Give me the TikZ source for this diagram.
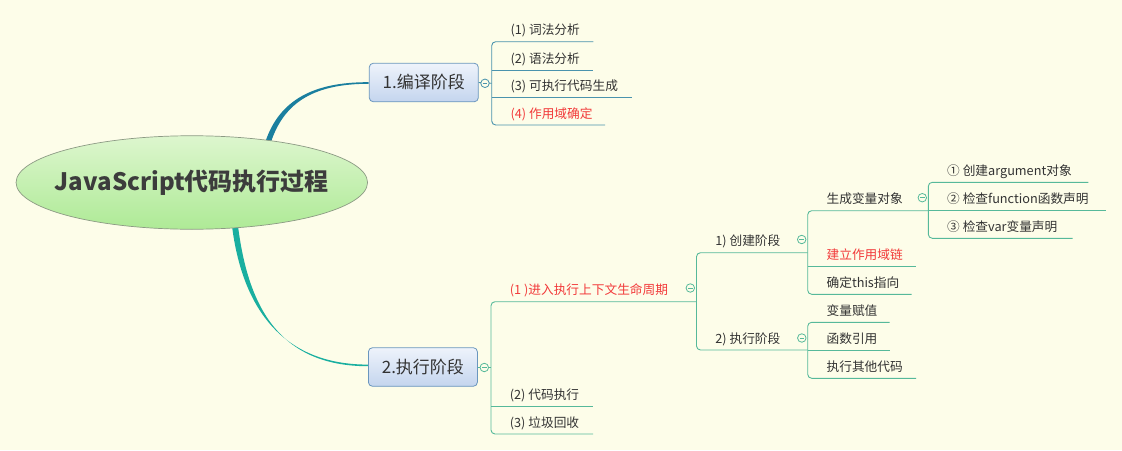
\documentclass[tikz,border=0pt]{standalone}
\usepackage{fontspec}
\setmainfont{Noto Sans CJK SC}
\usetikzlibrary{shapes.geometric}
\definecolor{bgc}{HTML}{FDFDE9}
\definecolor{txt}{HTML}{333333}
\definecolor{titletxt}{HTML}{3C3C3C}
\definecolor{redt}{HTML}{F23A3A}
\definecolor{lineA}{HTML}{4A93AD}
\definecolor{lineB}{HTML}{56B99A}
\definecolor{curveA}{HTML}{1A7F9F}
\definecolor{curveB}{HTML}{19AFA0}
\definecolor{boxtop}{HTML}{EEF3FB}
\definecolor{boxbot}{HTML}{C4D5EE}
\definecolor{boxline}{HTML}{6A96BE}
\definecolor{elltop}{HTML}{DDF6CE}
\definecolor{ellbot}{HTML}{AEEA96}
\definecolor{ellline}{HTML}{8C9A84}
\tikzset{
  lA/.style={draw=lineA, line width=0.9pt},
  lB/.style={draw=lineB, line width=0.9pt},
  leaftext/.style={inner sep=0pt, text=txt, font=\fontsize{12.7}{15}\selectfont},
  redtext/.style={leaftext, text=redt},
  phasebox/.style={draw=boxline, line width=0.8pt, rounded corners=4pt, top color=boxtop, bottom color=boxbot,
     minimum width=109pt, minimum height=38.5pt, inner sep=0pt, text=txt, font=\fontsize{17}{20}\selectfont},
  rootell/.style={ellipse, draw=ellline, line width=0.7pt, top color=elltop, bottom color=ellbot,
     minimum width=351.5pt, minimum height=93.5pt, inner sep=0pt},
  roottext/.style={inner sep=0pt, text=titletxt, font=\fontsize{24}{28}\selectfont\bfseries},
  collapsenode/.style={circle, draw=#1, fill=bgc, line width=0.8pt, minimum size=8.5pt, inner sep=0pt},
}
\newcommand\leaf[6]{% name, xv, y, xe, text style, text
  \coordinate (#1-l) at (#2,#3);
  \coordinate (#1-r) at (#4,#3);
  \node[#5, anchor=base west] (#1) at (#2+18.7,#3-7) {#6};
}
\newcommand\collapser[4]{% name, x, y, color
  \node[collapsenode=#4] (#1) at (#2,#3) {};
  \draw[#4, line width=0.8pt] ([xshift=-2.3pt]#1.center) -- ([xshift=2.3pt]#1.center);
}
\begin{document}
\begin{tikzpicture}[x=1pt, y=-1pt]
\fill[bgc] (0,0) rectangle (1122,450);
\useasboundingbox (0,0) rectangle (1122,450);

% main curves
\fill[curveA] (265.3,142) .. controls (279.5,99) and (315,82) .. (368.5,82.2)
   -- (368.5,83.8) .. controls (316,83.8) and (284.5,101) .. (271,142) -- cycle;
\fill[curveB] (232,226) .. controls (242,305) and (280,364.6) .. (368,364.6)
   -- (368,366.2) .. controls (278,366.2) and (248,305) .. (238,226) -- cycle;

% root
\node[rootell] (root) at (191.8,182.5) {};
\node[roottext] (roottitle) at (root.center) {JavaScript代码执行过程};

% phase boxes
\node[phasebox] (p1) at (423.8,82.5) {1.编译阶段};
\node[phasebox] (p2) at (422.9,367) {2.执行阶段};

% ---- phase 1 children
\leaf{a1}{491.7}{41.7}{593.3}{leaftext}{(1) 词法分析}
\leaf{a2}{491.7}{70}{593.3}{leaftext}{(2) 语法分析}
\leaf{a3}{491.7}{97.3}{631.7}{leaftext}{(3) 可执行代码生成}
\leaf{a4}{491.7}{125}{605}{redtext}{(4) 作用域确定}
\draw[lA, rounded corners=4pt] (a1-r) -- (a1-l) -- (a4-l) -- (a4-r);
\draw[lA] (a2-l) -- (a2-r);
\draw[lA] (a3-l) -- (a3-r);
\coordinate (p1j) at (491.7,83.3);
\draw[lA] (p1.east) -- (p1j);
\collapser{k1}{485}{83.3}{lineA}

% ---- phase 2 children
\leaf{c1}{491}{301.7}{696.5}{redtext}{(1 )进入执行上下文生命周期}
\leaf{c2}{491}{406}{593}{leaftext}{(2) 代码执行}
\leaf{c3}{491}{434}{593}{leaftext}{(3) 垃圾回收}
\draw[lB, rounded corners=4pt] (c1-r) -- (c1-l) -- (c3-l) -- (c3-r);
\draw[lB] (c2-l) -- (c2-r);
\coordinate (p2j) at (491,367);
\draw[lB] (p2.east) -- (p2j);
\collapser{k2}{484.3}{367.5}{lineB}

% ---- (1) children
\leaf{d1}{696.5}{252.7}{807.7}{leaftext}{1) 创建阶段}
\leaf{d2}{696.5}{350}{807.7}{leaftext}{2) 执行阶段}
\draw[lB, rounded corners=4pt] (d1-r) -- (d1-l) -- (d2-l) -- (d2-r);
\collapser{k3}{690.3}{288}{lineB}

% ---- 1) children
\leaf{e1}{807.7}{210.7}{928.3}{leaftext}{生成变量对象}
\leaf{e2}{807.7}{266.7}{916}{redtext}{建立作用域链}
\leaf{e3}{807.7}{294.3}{911.7}{leaftext}{确定this指向}
\draw[lB, rounded corners=4pt] (e1-r) -- (e1-l) -- (e3-l) -- (e3-r);
\draw[lB] (e2-l) -- (e2-r);
\collapser{k4}{801.7}{239.5}{lineB}

% ---- 生成变量对象 children
\leaf{f1}{928.3}{182.3}{1088.3}{leaftext}{① 创建argument对象}
\leaf{f2}{928.3}{210.7}{1106}{leaftext}{② 检查function函数声明}
\leaf{f3}{928.3}{238.3}{1072.7}{leaftext}{③ 检查var变量声明}
\draw[lB, rounded corners=4pt] (f1-r) -- (f1-l) -- (f3-l) -- (f3-r);
\draw[lB] (f2-l) -- (f2-r);
\collapser{k5}{922.3}{197.7}{lineB}

% ---- 2) children
\leaf{g1}{807.7}{322.3}{889.6}{leaftext}{变量赋值}
\leaf{g2}{807.7}{350}{889.6}{leaftext}{函数引用}
\leaf{g3}{807.7}{378.3}{916}{leaftext}{执行其他代码}
\draw[lB, rounded corners=4pt] (g1-r) -- (g1-l) -- (g3-l) -- (g3-r);
\draw[lB] (g2-l) -- (g2-r);
\collapser{k6}{801.8}{338}{lineB}
\end{tikzpicture}
\end{document}
